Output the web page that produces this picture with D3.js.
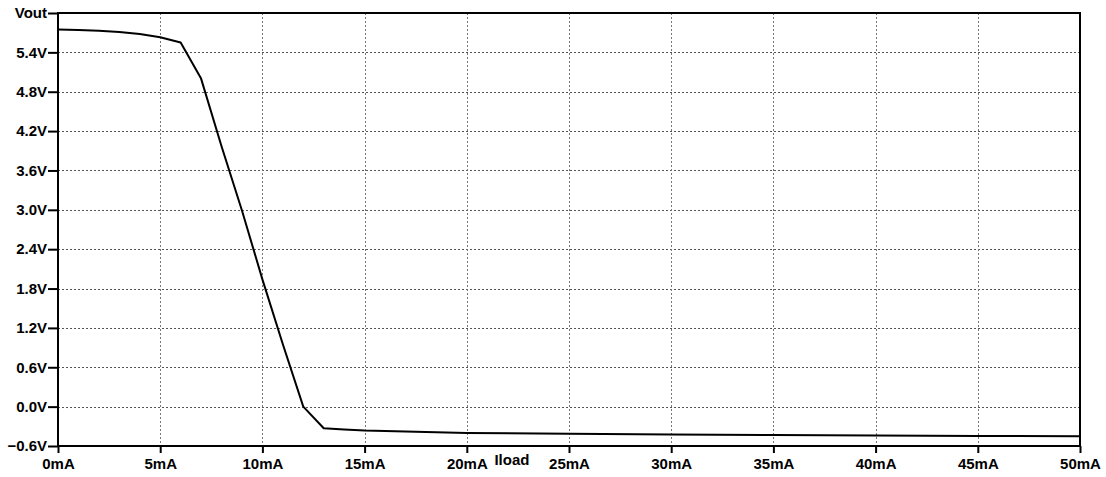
<!DOCTYPE html>
<html>
<head>
<meta charset="utf-8">
<script src="https://cdn.jsdelivr.net/npm/d3@7/dist/d3.min.js"></script>
<style>
  html, body { margin: 0; padding: 0; background: #fff; }
  svg { display: block; }
  text { font-family: "Liberation Sans", Arial, sans-serif; font-weight: bold; font-size: 15px; fill: #000; }
</style>
</head>
<body>
<svg id="chart" width="1106" height="477"></svg>
<script>
// Load current (mA) swept against output voltage (V)
const iload = [0, 1, 2, 3, 4, 5, 6, 7, 8, 9, 10, 11, 12, 13, 14, 15, 20, 25, 30, 35, 40, 45, 50];
const vout  = [5.75, 5.74, 5.73, 5.71, 5.68, 5.63, 5.55, 5.00, 3.97, 2.99, 1.94, 0.95, 0.0,
               -0.33, -0.35, -0.365, -0.40, -0.415, -0.425, -0.432, -0.44, -0.446, -0.45];

const xTicks = [0, 5, 10, 15, 20, 25, 30, 35, 40, 45, 50];
const yTicks = [-0.6, 0.0, 0.6, 1.2, 1.8, 2.4, 3.0, 3.6, 4.2, 4.8, 5.4, 6.0];
const xTitle = "Iload";
const yTitle = "Vout";

const svg = d3.select("#chart");
const W = 1106, H = 477;
const m = { left: 58, right: 26, top: 13, bottom: 31 };

const x = d3.scaleLinear().domain([0, 50]).range([m.left, W - m.right]);
const y = d3.scaleLinear().domain([-0.6, 6.0]).range([H - m.bottom, m.top]);

// dotted grid
const grid = svg.append("g");
grid.selectAll("line.h")
  .data(yTicks.slice(1, -1))
  .join("line")
  .attr("x1", m.left).attr("x2", W - m.right)
  .attr("y1", d => Math.round(y(d)) + 0.5).attr("y2", d => Math.round(y(d)) + 0.5)
  .attr("stroke", "#555").attr("stroke-width", 1).attr("stroke-dasharray", "2,2");
grid.selectAll("line.v")
  .data(xTicks.slice(1, -1))
  .join("line")
  .attr("x1", d => Math.round(x(d)) + 0.5).attr("x2", d => Math.round(x(d)) + 0.5)
  .attr("y1", m.top).attr("y2", H - m.bottom)
  .attr("stroke", "#777").attr("stroke-width", 1).attr("stroke-dasharray", "2,2");

// axes
const yAxis = d3.axisLeft(y)
  .tickValues(yTicks)
  .tickSize(10)
  .tickPadding(1)
  .tickFormat(d => Math.abs(d - 6.0) < 1e-9 ? yTitle : d3.format(".1f")(d) + "V");
const gy = svg.append("g").attr("transform", `translate(${m.left},0)`).call(yAxis);

const xAxis = d3.axisBottom(x)
  .tickValues(xTicks)
  .tickSize(7)
  .tickPadding(5)
  .tickFormat(d => d + "mA");
const gx = svg.append("g").attr("transform", `translate(0,${H - m.bottom})`).call(xAxis);

[gy, gx].forEach(g => {
  g.select(".domain").remove();
  g.selectAll(".tick line").attr("stroke", "#000").attr("stroke-width", 2);
  g.selectAll(".tick text")
    .attr("font-family", "Liberation Sans, Arial, sans-serif")
    .attr("font-weight", "bold").attr("font-size", 15).attr("fill", "#000");
});

// x-axis title sits between the 20mA and 25mA labels
svg.append("text")
  .attr("x", (x(20) + x(25)) / 2 - 6)
  .attr("y", H - m.bottom + 19)
  .attr("text-anchor", "middle")
  .text(xTitle);

// plot frame
svg.append("rect")
  .attr("x", m.left).attr("y", m.top)
  .attr("width", W - m.left - m.right).attr("height", H - m.top - m.bottom)
  .attr("fill", "none").attr("stroke", "#000").attr("stroke-width", 2);

// trace
const line = d3.line().x((d, i) => x(iload[i])).y(d => y(d));
svg.append("path")
  .datum(vout)
  .attr("d", line)
  .attr("fill", "none").attr("stroke", "#000").attr("stroke-width", 2)
  .attr("stroke-linejoin", "round");
</script>
</body>
</html>
